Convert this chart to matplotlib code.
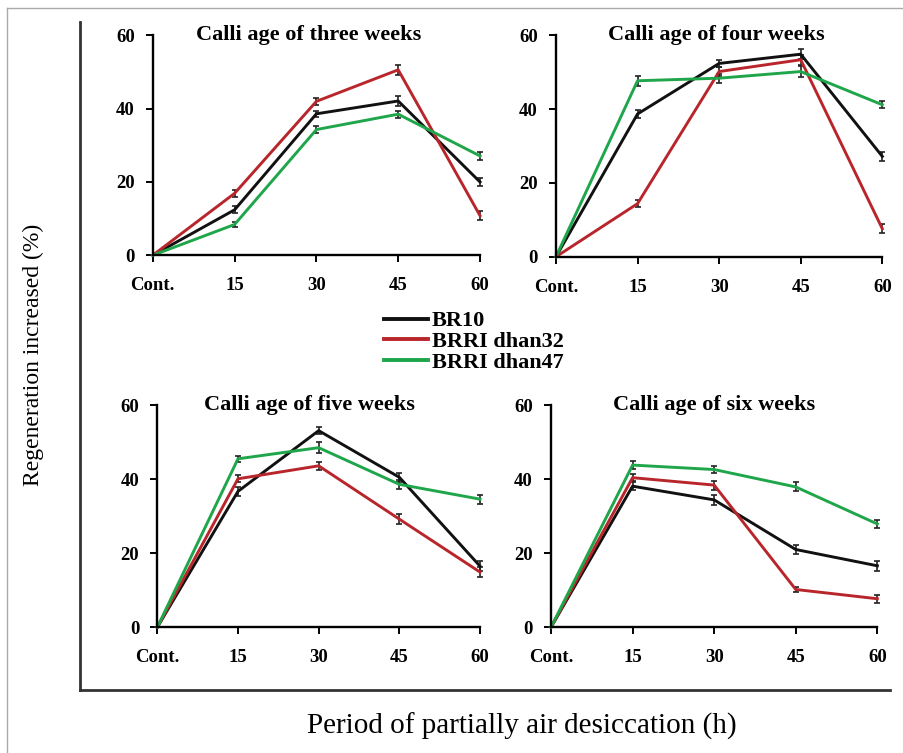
import matplotlib
matplotlib.use("Agg")
import matplotlib.pyplot as plt
from matplotlib.lines import Line2D

plt.rcParams['font.family'] = ['Liberation Serif', 'DejaVu Serif']

# periodo de desecacion (h), "Cont." = control
x_pos = [0, 15, 30, 45, 60]
x_labels = ["Cont.", "15", "30", "45", "60"]
cultivares = ["BR10", "BRRI dhan32", "BRRI dhan47"]
colores = ["#111111", "#b8262b", "#1fa64a"]

titulos = ["Calli age of three weeks", "Calli age of four weeks",
           "Calli age of five weeks", "Calli age of six weeks"]

# valores (%), un bloque por edad del callo
tres_br10 = [0, 12.4, 38.6, 42.1, 20.0]
tres_d32 = [0, 16.9, 42.0, 50.6, 10.8]
tres_d47 = [0, 8.4, 34.3, 38.5, 27.1]

cuatro_br10 = [0, 38.7, 52.4, 54.9, 27.2]
cuatro_d32 = [0, 14.4, 50.2, 53.4, 7.6]
cuatro_d47 = [0, 47.7, 48.4, 50.2, 41.2]

cinco_br10 = [0, 36.7, 53.1, 40.5, 16.5]
cinco_d32 = [0, 40.1, 43.6, 29.2, 14.9]
cinco_d47 = [0, 45.5, 48.5, 38.6, 34.6]

seis_br10 = [0, 38.1, 34.4, 21.0, 16.6]
seis_d32 = [0, 40.4, 38.4, 10.2, 7.7]
seis_d47 = [0, 43.8, 42.6, 37.9, 27.9]

# error estandar aproximado
err_tres = [[0, 1.0, 0.9, 1.3, 1.0], [0, 1.0, 1.0, 1.4, 1.3], [0, 0.8, 0.9, 1.0, 1.0]]
err_cuatro = [[0, 1.0, 1.0, 1.4, 1.2], [0, 1.0, 1.2, 1.3, 1.2], [0, 1.3, 1.2, 1.4, 1.0]]
err_cinco = [[0, 1.3, 1.0, 1.2, 1.4], [0, 1.0, 1.0, 1.4, 1.3], [0, 0.8, 1.5, 1.2, 1.2]]
err_seis = [[0, 1.0, 1.3, 1.1, 1.3], [0, 1.0, 1.2, 0.8, 1.1], [0, 1.0, 0.9, 1.2, 1.0]]

datos = [
    [tres_br10, tres_d32, tres_d47],
    [cuatro_br10, cuatro_d32, cuatro_d47],
    [cinco_br10, cinco_d32, cinco_d47],
    [seis_br10, seis_d32, seis_d47],
]
errores = [err_tres, err_cuatro, err_cinco, err_seis]

# posiciones de los paneles [izq, abajo, ancho, alto] y del titulo
cajas = [
    [0.169, 0.661, 0.362, 0.292],
    [0.615, 0.659, 0.361, 0.294],
    [0.174, 0.167, 0.357, 0.295],
    [0.6095, 0.167, 0.361, 0.295],
]
titulo_x = [0.477, 0.49, 0.47, 0.50]

fig = plt.figure(figsize=(9.04, 7.53), dpi=100)

for caja, series, errs, titulo, tx in zip(cajas, datos, errores, titulos, titulo_x):
    ax = fig.add_axes(caja)
    for y, e, c in zip(series, errs, colores):
        ax.errorbar(x_pos, y, yerr=e, color=c, lw=2.1, elinewidth=1.2,
                    ecolor="#222222", capsize=2.5, capthick=1.2, clip_on=False)
    ax.set_xlim(0, 60)
    ax.set_ylim(0, 60)
    ax.set_xticks(x_pos)
    ax.set_xticklabels(x_labels)
    ax.set_yticks([0, 20, 40, 60])
    ax.spines['top'].set_visible(False)
    ax.spines['right'].set_visible(False)
    ax.spines['left'].set_linewidth(1.7)
    ax.spines['bottom'].set_linewidth(1.7)
    ax.tick_params(direction='out', length=5, width=1.4, labelsize=13.5)
    ax.tick_params(axis='x', pad=11)
    ax.tick_params(axis='y', pad=8)
    for lab in ax.get_xticklabels() + ax.get_yticklabels():
        lab.set_fontweight('bold')
    ax.text(tx, 1.0, titulo, transform=ax.transAxes, ha='center', va='center',
            fontsize=16, fontweight='bold')

# leyenda comun
manijas = [Line2D([0], [0], color=c, lw=2.8) for c in colores]
fig.legend(manijas, cultivares, loc='upper left', bbox_to_anchor=(0.415, 0.599),
           frameon=False, prop={'weight': 'bold', 'size': 16}, handlelength=2.0,
           handletextpad=0.15, labelspacing=0.0, borderaxespad=0)

# marco en L de todo el grafico
fig.add_artist(Line2D([80 / 904, 80 / 904], [1 - 22 / 753, 1 - 690 / 753],
                      color="#333333", lw=2.0))
fig.add_artist(Line2D([80 / 904, 890 / 904], [1 - 690 / 753, 1 - 690 / 753],
                      color="#333333", lw=2.0))
# borde gris exterior
fig.add_artist(Line2D([7 / 904, 7 / 904], [0, 1 - 8 / 753], color="#aaaaaa", lw=1.0))
fig.add_artist(Line2D([7 / 904, 1], [1 - 8 / 753, 1 - 8 / 753], color="#aaaaaa", lw=1.0))

fig.text(33 / 904, 1 - 355 / 753, "Regeneration increased (%)", rotation=90,
         ha='center', va='center', fontsize=17)
fig.text(522 / 904, 1 - 726 / 753, "Period of partially air desiccation (h)",
         ha='center', va='center', fontsize=21)

fig.savefig("out.png", dpi=100)
